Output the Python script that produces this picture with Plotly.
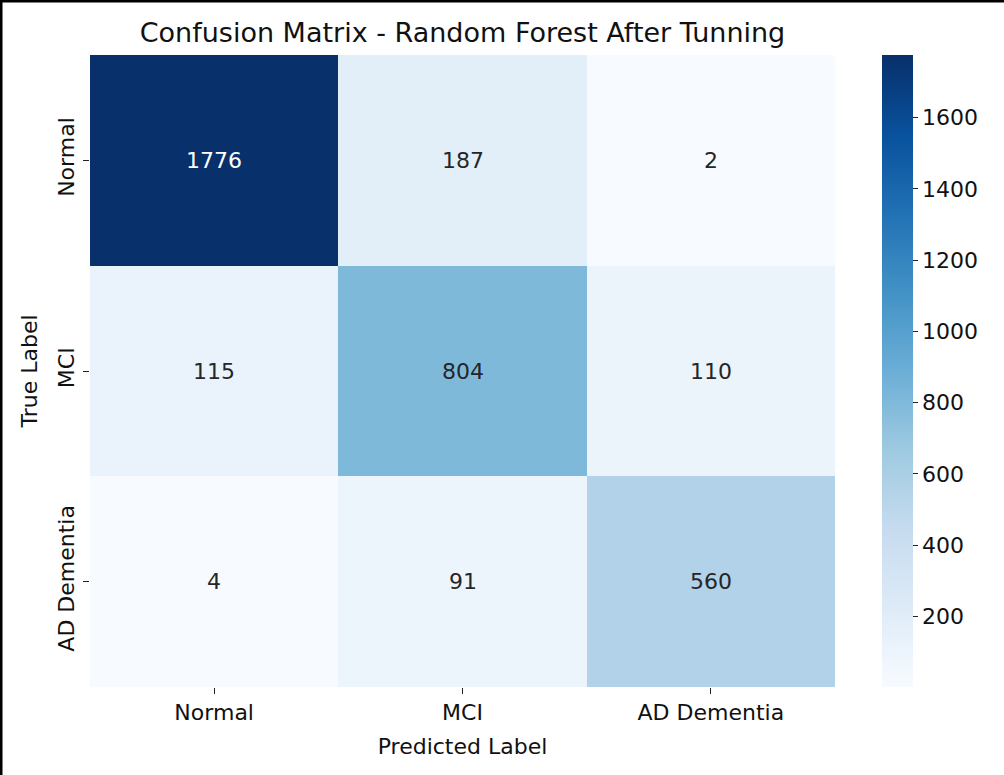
import plotly.graph_objects as go

labels = ["Normal", "MCI", "AD Dementia"]
cm = [
    [1776, 187, 2],
    [115, 804, 110],
    [4, 91, 560],
]
cbar_ticks = [200, 400, 600, 800, 1000, 1200, 1400, 1600]

W, H = 1004, 775
ml, mr, mt, mb = 90, 169, 55, 88
pw, ph = W - ml - mr, H - mt - mb

font = "DejaVu Sans"

fig = go.Figure()
fig.add_trace(go.Heatmap(
    z=cm, x=labels, y=labels,
    colorscale="Blues",
    colorbar=dict(
        x=1 + 47 / pw, xanchor="left", xpad=0, y=0.5, yanchor="middle", ypad=0,
        len=1, lenmode="fraction", thickness=31, outlinewidth=0,
        tickvals=cbar_ticks, ticks="outside", ticklen=5, tickwidth=1.3,
        tickcolor="#222", tickfont=dict(family=font, size=22, color="#111"),
    ),
    hoverinfo="skip",
))

# cell values, white on dark cells like seaborn
zmax = max(max(r) for r in cm)
for i, row in enumerate(cm):
    for j, v in enumerate(row):
        fig.add_annotation(
            x=labels[j], y=labels[i], text=str(v), showarrow=False,
            font=dict(family=font, size=22, color="white" if v > 0.6 * zmax else "#262626"),
        )

# top / left frame lines of the original image
fig.add_shape(type="line", xref="paper", yref="paper",
              x0=-ml / pw, x1=(pw + mr) / pw, y0=1 + (mt - 1) / ph, y1=1 + (mt - 1) / ph,
              line=dict(color="black", width=3))
fig.add_shape(type="line", xref="paper", yref="paper",
              x0=-(ml - 1) / pw, x1=-(ml - 1) / pw, y0=-mb / ph, y1=1 + mt / ph,
              line=dict(color="black", width=3))

fig.update_layout(
    width=W, height=H,
    margin=dict(l=ml, r=mr, t=mt, b=mb),
    plot_bgcolor="white", paper_bgcolor="white",
    font=dict(family=font, color="#111"),
    title=dict(text="Confusion Matrix - Random Forest After Tunning",
               x=(ml + pw / 2) / W, xanchor="center", y=1 - 33 / H, yanchor="middle",
               font=dict(family=font, size=27, color="#111")),
)
fig.update_xaxes(
    title=dict(text="Predicted Label", font=dict(family=font, size=22), standoff=14),
    ticks="outside", ticklen=6, tickwidth=1.3, tickcolor="#222",
    tickfont=dict(family=font, size=22), showgrid=False, zeroline=False,
)
fig.update_yaxes(
    title=dict(text="True Label", font=dict(family=font, size=22), standoff=10),
    autorange="reversed", tickangle=-90, ticklabelstandoff=0,
    ticks="outside", ticklen=6, tickwidth=1.3, tickcolor="#222",
    tickfont=dict(family=font, size=22), showgrid=False, zeroline=False,
)

fig.write_html("out.html", config={"displayModeBar": False},
               post_script="document.body.style.margin='0';")
